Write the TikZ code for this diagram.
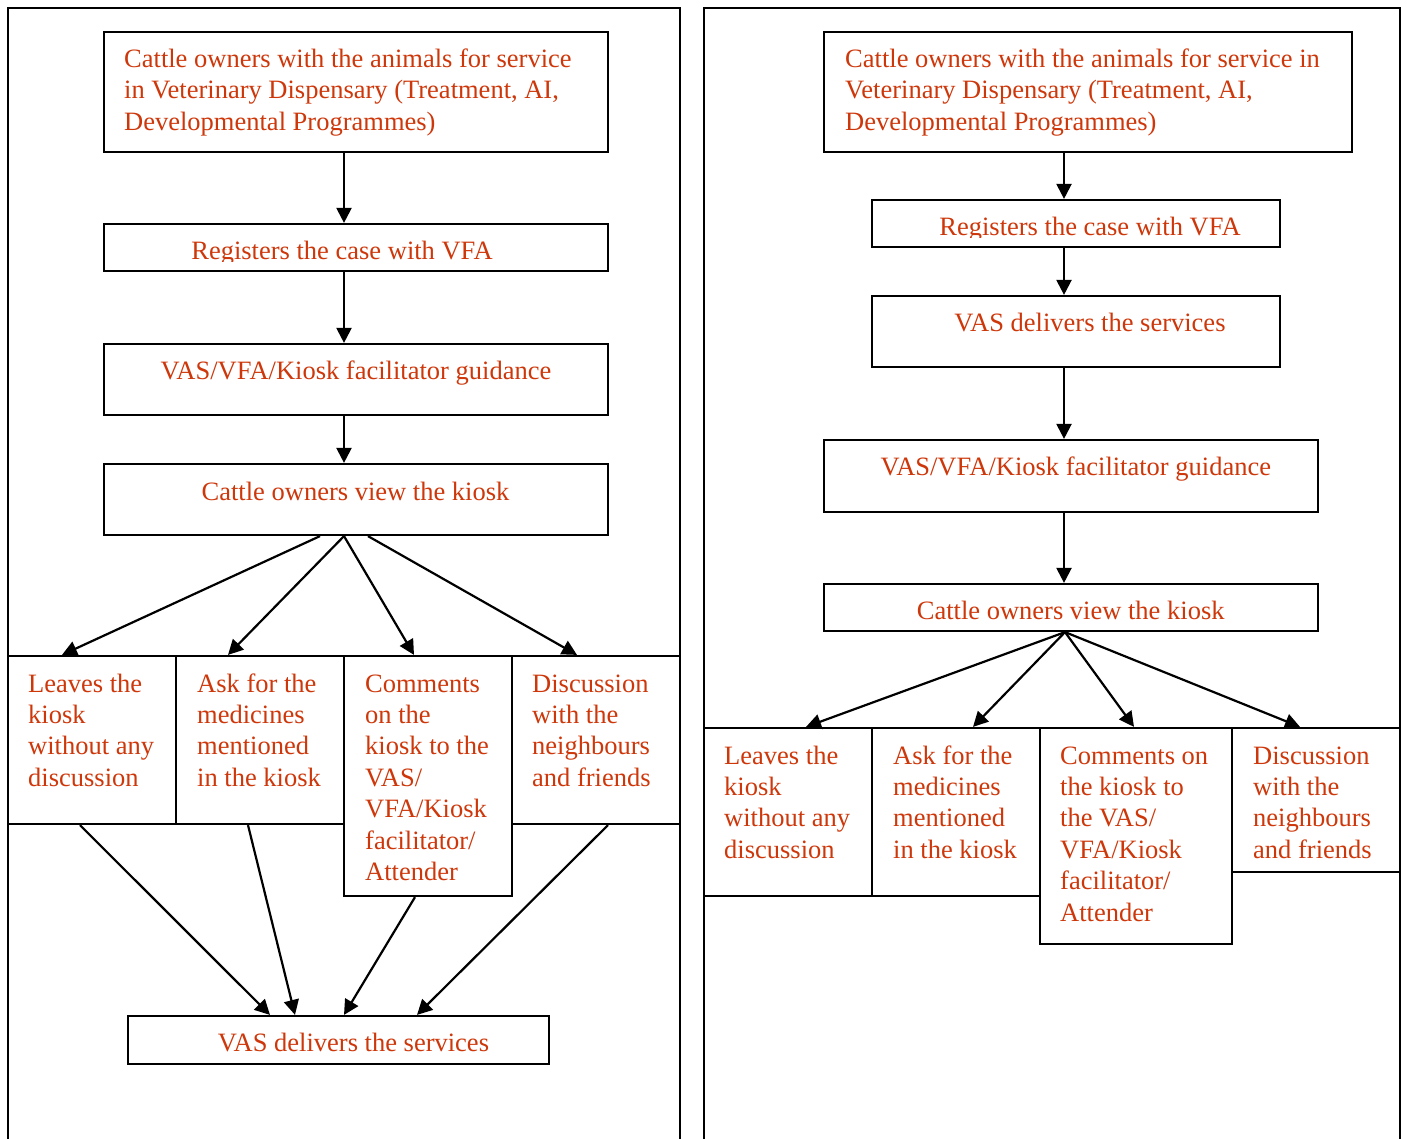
\documentclass[tikz,border=0pt]{standalone}
\usepackage{fontspec}
\setmainfont{Liberation Serif}
\usetikzlibrary{arrows.meta}
\definecolor{tc}{RGB}{205,55,10}
\newcommand{\mlines}[1]{\parbox[t]{700pt}{\raggedright #1}}
\begin{document}
\begin{tikzpicture}[x=1pt,y=-1pt,
  lw/.style={line width=2.2pt},
  box/.style={draw, lw, rectangle, inner sep=0pt},
  txt/.style={text=tc, inner sep=0pt, font=\fontsize{26.5}{31.4}\selectfont},
  arr/.style={lw, -{Triangle[length=15pt,width=15pt]}},
  framestyle/.style={lw}]

\useasboundingbox (0,0) rectangle (1407,1138);

% outer frames
\draw[framestyle] (8,1142) -- (8,8) -- (680,8) -- (680,1142);
\draw[framestyle] (704,1142) -- (704,8) -- (1400,8) -- (1400,1142);

% ---------------- left panel ----------------
\node[box, minimum width=504pt, minimum height=120pt] (L1) at (356,92) {};
\node[box, minimum width=504pt, minimum height=47pt] (L2) at (356,247.5) {};
\node[box, minimum width=504pt, minimum height=71pt] (L3) at (356,379.5) {};
\node[box, minimum width=504pt, minimum height=71pt] (L4) at (356,499.5) {};
\node[box, minimum width=168pt, minimum height=168pt] (La) at (92,740) {};
\node[box, minimum width=168pt, minimum height=168pt] (Lb) at (260,740) {};
\node[box, minimum width=168pt, minimum height=240pt] (Lc) at (428,776) {};
\node[box, minimum width=168pt, minimum height=168pt] (Ld) at (596,740) {};
\node[box, minimum width=421pt, minimum height=48pt] (LF) at (338.5,1040) {};

\node[txt, anchor=base west] (L1t) at (124,67.5) {\mlines{Cattle owners with the animals for service\\in Veterinary Dispensary (Treatment, AI,\\Developmental Programmes)}};
\begin{scope}
  \clip (104,224) rectangle (608,261.5);
  \node[txt, anchor=base] (L2t) at (342,259.5) {Registers the case with VFA};
\end{scope}
\node[txt, anchor=base] (L3t) at (356,379.3) {VAS/VFA/Kiosk facilitator guidance};
\node[txt, anchor=base] (L4t) at (355.5,500) {Cattle owners view the kiosk};
\node[txt, anchor=base] (LFt) at (353.5,1051.7) {VAS delivers the services};
\node[txt, anchor=base west] (Lat) at (28,692) {\mlines{Leaves the\\kiosk\\without any\\discussion}};
\node[txt, anchor=base west] (Lbt) at (197,692) {\mlines{Ask for the\\medicines\\mentioned\\in the kiosk}};
\node[txt, anchor=base west] (Lct) at (365,692) {\mlines{Comments\\on the\\kiosk to the\\VAS/\\VFA/Kiosk\\facilitator/\\Attender}};
\node[txt, anchor=base west] (Ldt) at (532,692) {\mlines{Discussion\\with the\\neighbours\\and friends}};

\draw[arr] ([xshift=-12pt]L1.south) -- ([xshift=-12pt]L2.north);
\draw[arr] ([xshift=-12pt]L2.south) -- ([xshift=-12pt]L3.north);
\draw[arr] ([xshift=-12pt]L3.south) -- ([xshift=-12pt]L4.north);
\draw[arr] ([xshift=-36pt]L4.south) -- ([xshift=-30pt]La.north);
\draw[arr] ([xshift=-12pt]L4.south) -- ([xshift=-32pt]Lb.north);
\draw[arr] ([xshift=-12pt]L4.south) -- ([xshift=-14pt]Lc.north);
\draw[arr] ([xshift=12pt]L4.south) -- ([xshift=-19pt]Ld.north);
\draw[arr] ([xshift=-12pt]La.south) -- ([xshift=-68.5pt]LF.north);
\draw[arr] ([xshift=-12pt]Lb.south) -- ([xshift=-43.5pt]LF.north);
\draw[arr] ([xshift=-13pt]Lc.south) -- ([xshift=5.5pt]LF.north);
\draw[arr] ([xshift=12pt]Ld.south) -- ([xshift=78.5pt]LF.north);

% ---------------- right panel ----------------
\node[box, minimum width=528pt, minimum height=120pt] (R1) at (1088,92) {};
\node[box, minimum width=408pt, minimum height=47pt] (R2) at (1076,223.5) {};
\node[box, minimum width=408pt, minimum height=71pt] (R3) at (1076,331.5) {};
\node[box, minimum width=494pt, minimum height=72pt] (R4) at (1071,476) {};
\node[box, minimum width=494pt, minimum height=47pt] (R5) at (1071,607.5) {};
\node[box, minimum width=168pt, minimum height=168pt] (Ra) at (788,812) {};
\node[box, minimum width=168pt, minimum height=168pt] (Rb) at (956,812) {};
\node[box, minimum width=192pt, minimum height=216pt] (Rc) at (1136,836) {};
\node[box, minimum width=168pt, minimum height=144pt] (Rd) at (1316,800) {};

\node[txt, anchor=base west] (R1t) at (845,67.5) {\mlines{Cattle owners with the animals for service in\\Veterinary Dispensary (Treatment, AI,\\Developmental Programmes)}};
\begin{scope}
  \clip (872,200) rectangle (1280,237.5);
  \node[txt, anchor=base] (R2t) at (1090,235.7) {Registers the case with VFA};
\end{scope}
\node[txt, anchor=base] (R3t) at (1090,331.7) {VAS delivers the services};
\node[txt, anchor=base] (R4t) at (1075.8,475.7) {VAS/VFA/Kiosk facilitator guidance};
\node[txt, anchor=base] (R5t) at (1070.7,619) {Cattle owners view the kiosk};
\node[txt, anchor=base west] (Rat) at (724,764) {\mlines{Leaves the\\kiosk\\without any\\discussion}};
\node[txt, anchor=base west] (Rbt) at (893,764) {\mlines{Ask for the\\medicines\\mentioned\\in the kiosk}};
\node[txt, anchor=base west] (Rct) at (1060,764) {\mlines{Comments on\\the kiosk to\\the VAS/\\VFA/Kiosk\\facilitator/\\Attender}};
\node[txt, anchor=base west] (Rdt) at (1253,764) {\mlines{Discussion\\with the\\neighbours\\and friends}};

\draw[arr] ([xshift=-24pt]R1.south) -- ([xshift=-12pt]R2.north);
\draw[arr] ([xshift=-12pt]R2.south) -- ([xshift=-12pt]R3.north);
\draw[arr] ([xshift=-12pt]R3.south) -- ([xshift=-7pt]R4.north);
\draw[arr] ([xshift=-7pt]R4.south) -- ([xshift=-7pt]R5.north);
\draw[arr] ([xshift=-6pt]R5.south) -- ([xshift=18pt]Ra.north);
\draw[arr] ([xshift=-6pt]R5.south) -- ([xshift=17pt]Rb.north);
\draw[arr] ([xshift=-6pt]R5.south) -- ([xshift=-2pt]Rc.north);
\draw[arr] ([xshift=-6pt]R5.south) -- ([xshift=-16pt]Rd.north);
\end{tikzpicture}
\end{document}
